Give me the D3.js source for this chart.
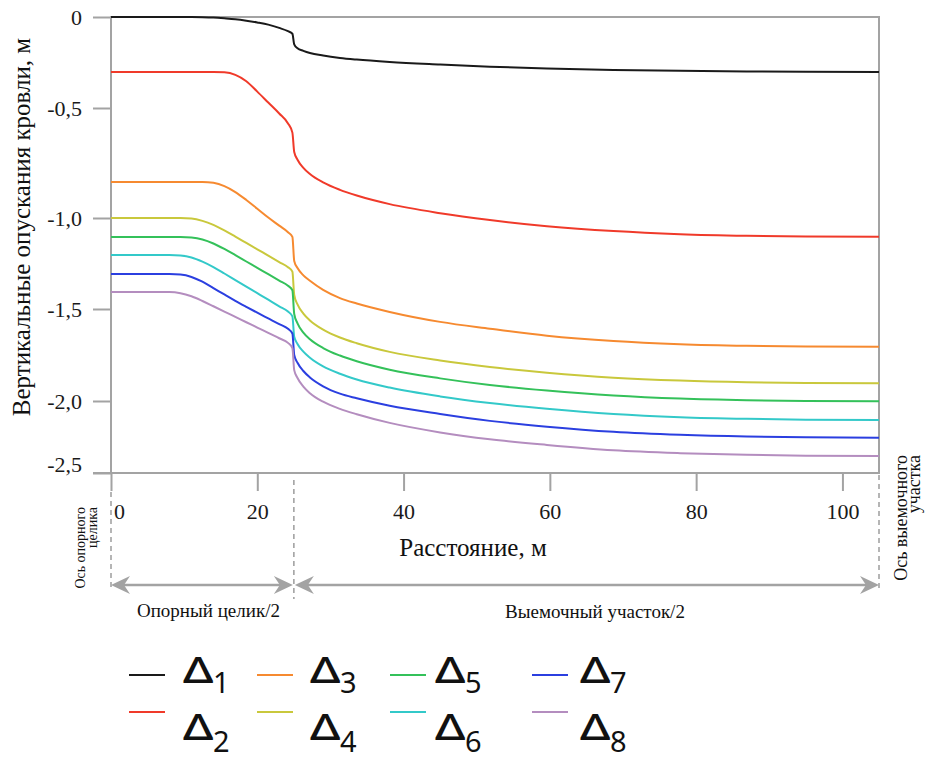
<!DOCTYPE html>
<html>
<head>
<meta charset="utf-8">
<script src="https://cdn.jsdelivr.net/npm/d3@7"></script>
<style>
  body { margin: 0; background: #fff; }
  svg { display: block; }
</style>
</head>
<body>
<svg id="chart" width="926" height="760"></svg>
<script>
// Distance from the pillar axis, m (shared sampling for all curves)
const distance = [0, 5, 8, 9.5, 11, 12.5, 14, 15.5, 17, 18.5, 20, 21.5, 23, 24.2, 24.8, 25.05,
  25.5, 26.3, 27.2, 29, 31.3, 33.6, 38.1, 45, 51.8, 59.6, 68.7, 77.8, 86.9, 95, 105];

// Vertical roof subsidence, m
const delta1 = [0, 0, 0, 0, 0, -0.001, -0.003, -0.007, -0.012, -0.02, -0.03, -0.042, -0.06, -0.078, -0.092, -0.15,
  -0.172, -0.186, -0.198, -0.212, -0.225, -0.234, -0.247, -0.261, -0.273, -0.283, -0.291, -0.296, -0.299, -0.301, -0.302];
const delta2 = [-0.302, -0.302, -0.302, -0.302, -0.302, -0.302, -0.302, -0.304, -0.318, -0.353, -0.41, -0.47, -0.525, -0.57, -0.612, -0.70,
  -0.735, -0.772, -0.80, -0.838, -0.872, -0.898, -0.937, -0.978, -1.011, -1.045, -1.072, -1.089, -1.098, -1.102, -1.103];
const delta3 = [-0.836, -0.836, -0.836, -0.836, -0.836, -0.836, -0.84, -0.855, -0.882, -0.918, -0.958, -0.998, -1.042, -1.078, -1.104, -1.236,
  -1.275, -1.315, -1.345, -1.395, -1.44, -1.47, -1.516, -1.57, -1.607, -1.645, -1.674, -1.691, -1.70, -1.704, -1.705];
const delta4 = [-1.0, -1.0, -1.0, -1.0, -1.003, -1.016, -1.038, -1.068, -1.102, -1.137, -1.172, -1.207, -1.242, -1.27, -1.295, -1.423,
  -1.475, -1.525, -1.562, -1.612, -1.655, -1.686, -1.733, -1.78, -1.815, -1.846, -1.873, -1.889, -1.898, -1.902, -1.904];
const delta5 = [-1.104, -1.104, -1.104, -1.104, -1.107, -1.118, -1.14, -1.17, -1.204, -1.239, -1.274, -1.309, -1.344, -1.372, -1.397, -1.527,
  -1.578, -1.628, -1.664, -1.712, -1.753, -1.784, -1.83, -1.877, -1.913, -1.943, -1.97, -1.987, -1.996, -2.0, -2.002];
const delta6 = [-1.203, -1.203, -1.203, -1.206, -1.217, -1.24, -1.27, -1.305, -1.341, -1.377, -1.413, -1.449, -1.485, -1.514, -1.54, -1.651,
  -1.69, -1.732, -1.765, -1.812, -1.852, -1.883, -1.927, -1.975, -2.014, -2.054, -2.09, -2.112, -2.124, -2.13, -2.132];
const delta7 = [-1.308, -1.308, -1.308, -1.311, -1.324, -1.35, -1.385, -1.42, -1.455, -1.488, -1.52, -1.551, -1.582, -1.608, -1.633, -1.75,
  -1.792, -1.837, -1.872, -1.92, -1.96, -1.985, -2.033, -2.09, -2.138, -2.178, -2.214, -2.235, -2.247, -2.252, -2.255];
const delta8 = [-1.407, -1.407, -1.407, -1.413, -1.43, -1.456, -1.485, -1.514, -1.543, -1.572, -1.601, -1.63, -1.659, -1.684, -1.712, -1.832,
  -1.875, -1.922, -1.958, -2.005, -2.055, -2.092, -2.152, -2.218, -2.266, -2.305, -2.342, -2.362, -2.374, -2.38, -2.382];

const seriesValues = [delta1, delta2, delta3, delta4, delta5, delta6, delta7, delta8];
const seriesSubscripts = ["1", "2", "3", "4", "5", "6", "7", "8"];
const seriesColors = ["#1a1a1a", "#f03a2a", "#f68a30", "#c9c83c", "#34c15a", "#33c9c9", "#2b3fe0", "#b48dbf"];

const yTickValues = [0, -0.5, -1.0, -1.5, -2.0, -2.5];
const yTickLabels = ["0", "-0,5", "-1,0", "-1,5", "-2,0", "-2,5"];
const xTickValues = [0, 20, 40, 60, 80, 100];
const xTickLabels = ["0", "20", "40", "60", "80", "100"];

const pillarHalfWidth = 25;   // m, half of the support pillar
const sectionEnd = 105;       // m, axis of the extraction panel

const svg = d3.select("#chart");
const serif = "'Liberation Serif', 'Times New Roman', serif";
const axisGrey = "#a3a3a3";

// Scales (the vertical scale follows the drawn tick spacing of the figure)
const x = d3.scaleLinear().domain([0, sectionEnd]).range([111, 879]);
const y = d3.scaleLinear().domain(yTickValues).range([17, 108, 218, 309, 401, 473]);

// Plot frame
svg.append("rect")
  .attr("x", x(0)).attr("y", y(0))
  .attr("width", x(sectionEnd) - x(0)).attr("height", y(-2.5) - y(0))
  .attr("fill", "none").attr("stroke", axisGrey).attr("stroke-width", 2);

// Y axis
const yAxis = svg.append("g")
  .attr("transform", `translate(${x(0)},0)`)
  .call(d3.axisLeft(y).tickValues(yTickValues).tickSize(18).tickPadding(11)
    .tickFormat((d, i) => yTickLabels[i]))
  .attr("font-family", serif).attr("font-size", 22);
yAxis.select(".domain").remove();
yAxis.selectAll(".tick line").attr("stroke", axisGrey).attr("stroke-width", 2);
yAxis.selectAll(".tick text").attr("fill", "#1a1a1a")
  .attr("dy", (d) => d === -2.5 ? "-0.05em" : "0.32em");

// X axis
const xAxis = svg.append("g")
  .attr("transform", `translate(0,${y(-2.5)})`)
  .call(d3.axisBottom(x).tickValues(xTickValues).tickSize(18).tickPadding(12)
    .tickFormat((d, i) => xTickLabels[i]))
  .attr("font-family", serif).attr("font-size", 22);
xAxis.select(".domain").remove();
xAxis.selectAll(".tick line").attr("stroke", axisGrey).attr("stroke-width", 2);
xAxis.selectAll(".tick text").attr("fill", "#1a1a1a")
  .attr("dx", (d) => d === 0 ? 8 : 0);
// bottom axis runs out to the left tick ends
svg.append("line")
  .attr("x1", x(0) - 18).attr("x2", x(0))
  .attr("y1", y(-2.5)).attr("y2", y(-2.5))
  .attr("stroke", axisGrey).attr("stroke-width", 2);

// Curves
const line = d3.line()
  .x((d) => x(d[0]))
  .y((d) => y(d[1]))
  .curve(d3.curveMonotoneX);

seriesValues.forEach((vals, i) => {
  svg.append("path")
    .datum(distance.map((dx, j) => [dx, vals[j]]))
    .attr("fill", "none")
    .attr("stroke", seriesColors[i])
    .attr("stroke-width", 2)
    .attr("stroke-linejoin", "round")
    .attr("d", line);
});

// Axis titles
svg.append("text")
  .attr("x", 473).attr("y", 556)
  .attr("text-anchor", "middle")
  .attr("font-family", serif).attr("font-size", 25).attr("fill", "#111")
  .text("Расстояние, м");

svg.append("text")
  .attr("transform", "translate(30,227) rotate(-90)")
  .attr("text-anchor", "middle")
  .attr("font-family", serif).attr("font-size", 25).attr("fill", "#111")
  .text("Вертикальные опускания кровли, м");

// Dashed guides for the pillar axis, pillar edge and panel axis
const arrowY = 585;
const guides = [
  { at: 0, top: y(-2.5) + 19, bottom: arrowY + 4 },
  { at: pillarHalfWidth, top: y(-2.5) + 7, bottom: arrowY + 14 },
  { at: sectionEnd, top: y(-2.5) + 2, bottom: arrowY + 4 }
];
svg.selectAll(".guide").data(guides).join("line")
  .attr("class", "guide")
  .attr("x1", (d) => x(d.at)).attr("x2", (d) => x(d.at))
  .attr("y1", (d) => d.top).attr("y2", (d) => d.bottom)
  .attr("stroke", axisGrey).attr("stroke-width", 1.6)
  .attr("stroke-dasharray", "5,4");

// Dimension arrows
function headPath(tip, dir) {
  const len = 19, half = 9, notch = 6;
  const b = tip - dir * len;
  return `M${tip},${arrowY} L${b},${arrowY - half} L${b + dir * notch},${arrowY} L${b},${arrowY + half} Z`;
}
function dimension(fromX, toX) {
  const g = svg.append("g");
  g.append("line")
    .attr("x1", fromX + 8).attr("x2", toX - 8)
    .attr("y1", arrowY).attr("y2", arrowY)
    .attr("stroke", axisGrey).attr("stroke-width", 2.5);
  g.append("path").attr("d", headPath(fromX, -1)).attr("fill", axisGrey);
  g.append("path").attr("d", headPath(toX, 1)).attr("fill", axisGrey);
}
dimension(x(0), x(pillarHalfWidth) - 1);
dimension(x(pillarHalfWidth) + 1, x(sectionEnd));

svg.append("text")
  .attr("x", (x(0) + x(pillarHalfWidth)) / 2 + 6).attr("y", 617)
  .attr("text-anchor", "middle")
  .attr("font-family", serif).attr("font-size", 19).attr("fill", "#111")
  .text("Опорный целик/2");

svg.append("text")
  .attr("x", 595).attr("y", 618)
  .attr("text-anchor", "middle")
  .attr("font-family", serif).attr("font-size", 19).attr("fill", "#111")
  .text("Выемочный участок/2");

// Rotated axis captions
function rotatedCaption(px, py, size, lines, gap) {
  const t = svg.append("text")
    .attr("transform", `translate(${px},${py}) rotate(-90)`)
    .attr("text-anchor", "end")
    .attr("font-family", serif).attr("font-size", size).attr("fill", "#111");
  lines.forEach((s, i) => {
    t.append("tspan").attr("x", 0).attr("y", i * gap).text(s);
  });
}
rotatedCaption(85, 507, 14, ["Ось опорного", "целика"], 12);
rotatedCaption(907, 455, 18, ["Ось выемочного", "участка"], 13);

// Legend
const legendLineX = [129, 257, 390, 532];
const legendTextX = [183, 310, 435, 580];
const legend = svg.append("g")
  .attr("font-family", "'Noto Sans', 'DejaVu Sans', sans-serif")
  .attr("fill", "#111");
seriesSubscripts.forEach((sub, i) => {
  const col = Math.floor(i / 2), row = i % 2;
  const ly = row ? 712 : 675;
  const base = row ? 740 : 683;
  legend.append("line")
    .attr("x1", legendLineX[col]).attr("x2", legendLineX[col] + 36)
    .attr("y1", ly).attr("y2", ly)
    .attr("stroke", seriesColors[i]).attr("stroke-width", 2);
  legend.append("text")
    .attr("transform", `translate(${legendTextX[col]},${base}) scale(1.3,1)`)
    .attr("font-size", 36).attr("font-weight", 500)
    .text("Δ");
  legend.append("text")
    .attr("x", legendTextX[col] + 30).attr("y", base + (row ? 12 : 10))
    .attr("font-size", 29)
    .text(sub);
});
</script>
</body>
</html>
